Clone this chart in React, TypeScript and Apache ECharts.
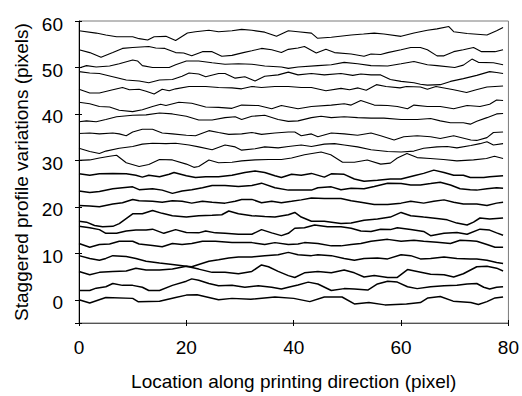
import React, { useEffect, useRef } from "react";
import * as echarts from "echarts";

type Pt = [number, number];

const xTicks = { min: 0, max: 80, interval: 20 };
const yRange = { min: -5, max: 60 };

const xTitle = "Location along printing direction (pixel)";
const yTitle = "Staggered profile variations (pixels)";

const profile01: Pt[] = [[0,0],[2,-0.7],[5,0.5],[10,0.3],[11,-0.4],[15,-0.3],[18,0.5],[20,1.0],[22,1.1],[26,0],[28.5,0.3],[32,0.1],[36.5,0.6],[40,0.3],[43,-0.4],[45.7,0.6],[49,0.6],[51.3,-0.9],[54,-0.6],[57,-1.1],[61,-0.9],[63.6,-0.6],[65,0.4],[67.3,0.7],[69.7,-0.3],[73,-0.6],[74.4,-1.0],[76,-0.4],[77.5,0.4],[79,0.6]];
const profile02: Pt[] = [[0,2.0],[2,2.0],[3.2,2.5],[5,2.8],[6.3,3.5],[8.1,3.1],[10,3.1],[11.8,2.7],[13,2.0],[15,2.0],[17.4,3.1],[20,4.0],[21,4.5],[22.3,4.2],[24.2,3.5],[26,3.0],[28.5,3.1],[30.9,2.7],[33.4,3.0],[35.9,2.7],[37.7,2.3],[39,2.7],[40.8,3.2],[42.7,3.8],[44.5,3.4],[47,2.0],[49.4,2.4],[51.3,2.3],[53.8,2.1],[55.6,3.4],[57.5,4.0],[59.3,3.8],[61.2,2.8],[63,2.4],[65.5,2.8],[68,3.0],[70.4,3.1],[72.3,3.4],[74.1,3.5],[75.4,2.7],[76.5,2.3],[77.8,2.7],[79,2.8]];
const profile03: Pt[] = [[0,6.1],[2,5.4],[3.8,5.9],[6.3,6.1],[8.8,6.2],[10.6,6.8],[12.5,6.4],[15,6.4],[17.4,6.6],[20,7.2],[21,7.1],[22.3,7.6],[24.2,8.3],[26,8.6],[27.9,9.0],[29.7,9.2],[32.2,9.2],[34.6,9.5],[37.1,9.7],[39,10.2],[40.8,9.7],[43.3,9.5],[44.5,9.7],[47,9.5],[49.4,8.9],[51.3,8.5],[53.1,8.9],[55.6,9.0],[57.5,8.8],[60,9.7],[61.8,9.5],[63.6,8.8],[65.5,8.9],[68,9.2],[70.4,8.9],[72.9,8.8],[74.1,8.8],[76,8.5],[77.8,8.0],[79,7.8]];
const profile04: Pt[] = [[0,9.5],[2,8.9],[3.8,8.5],[5,8.9],[6.3,9.5],[8.8,9.3],[10.6,8.9],[12.5,8.3],[15,7.9],[17.4,7.6],[20,7.2],[22.3,6.6],[24.8,5.9],[27.2,5.9],[29.7,5.6],[32.2,6.1],[34,7.5],[35.3,7.1],[37.1,6.1],[39,5.2],[40.2,4.8],[42,5.8],[44.5,6.1],[47,5.8],[49.4,6.4],[51.3,5.8],[53.1,4.9],[55,5.2],[57.5,4.8],[59.3,4.8],[61.2,6.5],[63,6.1],[65.5,5.5],[68,5.4],[69.8,4.9],[71.6,5.6],[74.1,7.1],[76,7.2],[77.8,6.8],[79,6.2]];
const profile05: Pt[] = [[0,12.1],[2,11.3],[3.8,11.9],[5.7,12.0],[7.5,12.6],[10,12.6],[11.2,12.0],[13.7,11.7],[15.5,11.4],[17.4,12.1],[19.2,11.9],[21,12.1],[23,12.6],[25.4,12.6],[28.5,12.3],[32.2,12.3],[34.6,11.9],[36.5,12.3],[39,11.9],[40.8,12.0],[42,12.3],[44.5,12.1],[47,11.6],[48.8,11.6],[50.7,11.9],[52.5,12.1],[54.4,12.6],[57.5,13.0],[60,12.6],[62.4,12.8],[64.2,12.6],[66.7,12.4],[69.2,12.1],[71,12.8],[72.9,12.7],[74.1,12.6],[76,11.9],[77.5,11.3],[79,11.3]];
const profile06: Pt[] = [[0,15.8],[2,15.5],[3.8,15.1],[5,14.3],[7,14.3],[8.8,14.8],[10.6,15.0],[12.5,15.0],[13.7,15.2],[15.8,14.3],[18,15.1],[20,14.5],[22.3,14.4],[23.6,14.8],[25.4,14.4],[27.2,14.3],[29.7,14.1],[32.2,14.1],[34,15.1],[35.9,14.4],[37.7,13.8],[39,14.3],[40.2,15.4],[42,15.5],[43.9,16.1],[46.3,15.7],[48.8,15.7],[50.7,15.4],[52.5,14.8],[54.4,14.7],[56.2,15.2],[58,15.1],[59.3,15.5],[61.8,15.1],[64.2,14.7],[65.5,13.8],[68,14.3],[70.4,14.5],[72.3,14.1],[74.7,15.2],[76.5,15.0],[77.8,14.4],[79,13.9]];
const profile07: Pt[] = [[0,16.9],[1.4,16.7],[2.9,16.0],[4.4,15.7],[6.3,15.8],[7.5,16.4],[10,18.5],[11.8,18.5],[13.7,19.2],[15.5,18.6],[17.4,18.1],[20,17.8],[22.3,18.1],[24.8,18.2],[26.6,18.3],[27.9,19.1],[29.7,18.5],[32.2,18.1],[34.6,17.9],[36.5,17.8],[39,18.3],[40.2,18.8],[41.4,17.8],[43.3,16.9],[45.7,16.9],[48.8,16.4],[50.7,16.5],[53.1,17.1],[55.6,17.4],[58,17.8],[60,18.8],[61.8,18.1],[64.2,17.8],[66.7,17.5],[68.6,17.2],[70.4,16.5],[72.3,16.1],[73.5,16.7],[74.7,17.6],[76.5,17.4],[79,17.6]];
const profile08: Pt[] = [[0,20.3],[2,20.2],[3.8,20.0],[6.3,20.6],[8.1,20.9],[10,21.6],[11.2,21.3],[13.7,21.2],[15.5,21.0],[17.4,21.3],[19.2,21.2],[21,20.8],[23,21.2],[24.8,21.0],[27.2,20.8],[29.1,21.2],[30.3,21.6],[32.2,21.6],[34,20.9],[35.9,21.2],[37.7,20.9],[39.6,21.2],[41.4,21.5],[43.3,21.9],[45.7,21.8],[48.8,21.8],[50.7,21.3],[52.5,21.0],[55,20.5],[57.5,20.5],[60,20.8],[61.8,21.2],[64.2,20.8],[66.1,21.2],[68,21.5],[69.8,21.0],[71.6,20.6],[74.1,20.6],[76,20.3],[77.8,20.8],[79,21.0]];
const profile09: Pt[] = [[0,23.4],[2,23.1],[3.8,23.3],[6.3,23.9],[8.1,24.1],[10,24.3],[11.2,23.7],[13.7,23.9],[15.5,23.6],[17.4,22.9],[19.2,23.4],[21,23.7],[23,24.1],[24.8,24.6],[27.2,24.6],[29.7,24.4],[32.2,24.6],[34,25.1],[36.5,24.1],[39,23.6],[41.4,23.6],[43.3,23.6],[44.5,24.1],[47,24.3],[48.8,23.7],[50.7,24.0],[53.1,23.9],[55,24.4],[57.5,25.1],[60,25.0],[61.8,24.7],[63.6,24.7],[65.5,25.0],[67.3,25.3],[69.2,24.7],[71,23.9],[72.9,23.7],[74.1,23.6],[76,23.9],[77.8,24.1],[79,24.0]];
const profile10: Pt[] = [[0,27.1],[2,26.8],[3.8,27.1],[6.3,27.2],[8.8,27.1],[10.6,26.8],[11.8,26.4],[13,26.8],[15,26.5],[16.8,27.0],[17.7,27.4],[20,26.7],[21.7,26.3],[23.6,26.5],[26,26.5],[28.5,26.8],[30.9,27.4],[32.8,27.7],[34.6,27.4],[36.5,26.7],[37.7,26.3],[39.6,27.0],[41.4,26.8],[43.3,27.2],[45.7,26.4],[47,27.1],[49.4,27.0],[51.3,26.0],[53.1,25.5],[55.6,25.7],[58,26.0],[60,26.0],[62.4,26.7],[64.2,27.2],[66.1,27.9],[68,27.4],[69.8,26.8],[71.6,26.8],[72.9,26.3],[75.4,26.3],[76.5,26.5],[79,26.7]];
const profile11: Pt[] = [[0,30.0],[2,30.1],[3.8,30.5],[5.7,30.9],[7,31.1],[8.8,29.5],[11.2,28.7],[13,29.1],[15,30.2],[17.4,30.1],[20,29.2],[21.4,28.5],[22.3,28.7],[24.2,30.1],[26,29.5],[28.5,29.6],[30.3,29.9],[32.8,30.1],[35.3,30.2],[37.7,30.2],[39.6,30.5],[42,31.2],[45.1,31.8],[46.9,31.2],[49.1,29.6],[51.3,29.6],[53.7,30.1],[56.2,29.2],[58,29.4],[59.3,30.5],[61.1,31.5],[63,30.6],[65.4,30.4],[67.9,30.2],[70.4,29.9],[73.5,30.1],[75.9,30.4],[77.4,30.9],[79,30.4]];
const profile12: Pt[] = [[0,32.6],[2,31.9],[3.8,31.5],[5,32.0],[7.5,32.6],[10,33.0],[11.8,33.5],[13.7,33.7],[16.2,33.6],[18,33.7],[20.5,33.3],[22.3,32.9],[24.8,32.3],[27.2,33.3],[29.1,32.9],[30.3,32.2],[32.8,32.5],[34.6,32.9],[37.1,32.7],[39,33.0],[41.4,33.3],[43.3,33.0],[45.7,33.5],[47.6,33.6],[49.4,33.3],[51.9,32.9],[54.4,32.3],[57.5,31.9],[60,31.8],[62.4,32.0],[64.2,32.6],[66.7,32.9],[68.6,33.0],[70.4,32.7],[73,33.2],[74.7,33.6],[76,34.0],[77.2,33.3],[79,33.6]];
const profile13: Pt[] = [[0,35.8],[2,35.9],[3.8,35.7],[6.3,35.9],[7.5,35.7],[8.8,35.3],[10,36.1],[11.8,36.7],[13.7,36.7],[15.5,35.9],[17.4,35.7],[20,35.4],[21.7,35.3],[24.2,36.4],[26,36.0],[27.9,35.6],[30.3,35.7],[32.2,36.0],[34,35.6],[36.5,35.9],[39,36.1],[40.2,36.1],[41.4,35.3],[43.3,35.7],[44.5,35.1],[47,35.9],[49.4,35.7],[51.9,35.4],[54.4,35.9],[56.2,35.3],[58.7,34.4],[60.5,35.1],[63,35.3],[65.5,35.1],[67.3,34.7],[69.8,35.3],[73,34.4],[74.1,34.3],[76,34.9],[77.2,36.0],[79,36.1]];
const profile14: Pt[] = [[0,38.3],[1.4,38.5],[3.2,38.3],[5,38.8],[7,39.4],[10,39.7],[12.5,39.8],[15,40.2],[17.4,40.0],[20,39.5],[22.3,38.7],[24.8,38.7],[27.2,39.2],[29.1,39.4],[30.3,38.8],[32.2,39.5],[34.6,39.7],[37.1,38.8],[39,38.4],[40.8,38.5],[43.3,39.2],[45.1,39.5],[47,39.2],[49.4,39.4],[51.9,39.2],[54.4,39.1],[56.8,39.1],[60,38.8],[63,38.8],[65.5,39.0],[67.3,38.5],[69.2,38.1],[71.6,38.1],[72.9,37.8],[74.1,38.4],[76,39.2],[77.8,40.0],[79,40.1]];
const profile15: Pt[] = [[0,42.5],[2,42.2],[3.8,41.6],[5.7,41.5],[7.5,40.8],[10,40.5],[11.8,40.9],[13.7,41.6],[15.2,42.1],[16.2,41.8],[18.6,42.5],[21,42.3],[23.6,41.5],[26,41.4],[28.5,41.2],[30.3,41.9],[33.4,41.8],[35.9,41.1],[37.7,41.8],[39.6,41.4],[40.8,41.1],[43.3,41.6],[47,41.9],[49.4,42.2],[50.7,41.9],[52.5,42.9],[55,41.9],[57.5,41.8],[59.3,41.6],[61.2,41.1],[62.4,41.9],[64.9,41.6],[67.3,41.6],[69.8,41.1],[72.3,41.8],[74.7,41.6],[76.5,42.1],[77.8,43.0],[79,42.9]];
const profile16: Pt[] = [[0,45.3],[2,44.5],[3.8,44.5],[6.3,45.2],[8.1,45.7],[9.4,45.2],[11.2,45.3],[12.5,44.9],[14,44.3],[15.5,45.3],[16.8,45.0],[18,45.4],[20.5,45.9],[23.6,45.9],[26,45.7],[28.5,45.6],[30.3,45.4],[32.2,45.9],[34,45.7],[36.5,45.9],[39,45.9],[41.4,45.7],[43.3,45.7],[46,45.0],[48.8,45.5],[50.4,45.2],[52,45.6],[53.5,45.1],[55.4,46.3],[57.2,45.9],[59.8,45.6],[61,45.9],[63.6,45.8],[64.9,45.3],[66.5,45.9],[69.8,45.2],[72.2,44.6],[74,45.2],[76,45.8],[79,46.0]];
const profile17: Pt[] = [[0,49.1],[2,48.8],[3.8,48.7],[6.3,48.0],[8.8,47.3],[11.2,47.1],[13,46.7],[15,47.3],[17.4,47.4],[19.2,48.1],[20.5,48.8],[22.3,48.6],[23.6,48.0],[26,48.7],[27.2,48.7],[29.1,47.7],[30.9,48.0],[32.8,47.1],[34.6,48.1],[37.1,48.4],[39,49.0],[40.8,48.4],[43.3,48.7],[45.7,48.4],[48.8,48.7],[51,48.3],[52.5,48.6],[54.4,48.4],[56.2,48.4],[58,47.4],[60,47.0],[62.4,46.7],[63.6,46.4],[64.9,46.2],[67.3,46.3],[69.2,47.0],[71.6,47.6],[74.1,48.3],[76.5,49.1],[77.8,48.9],[79,48.7]];
const profile18: Pt[] = [[0,49.9],[1.4,50.4],[3.2,50.1],[5.7,50.3],[7.5,50.8],[10,51.6],[10.9,51.4],[11.8,50.4],[13.7,50.0],[16.8,50.0],[18,50.6],[20,51.4],[22.3,51.4],[24.8,51.0],[27.2,50.7],[29.7,50.8],[32.2,50.7],[34.6,50.3],[37.7,50.1],[39,49.8],[40.8,50.1],[44.5,50.4],[47,50.6],[49.4,51.1],[51.9,50.8],[54.4,50.4],[57.5,50.3],[60,50.8],[62.4,51.3],[64.9,50.6],[66.7,50.4],[70,50.0],[71.6,50.5],[73.2,51.8],[74.4,51.1],[77.2,51.0],[79,50.6]];
const profile19: Pt[] = [[0,53.8],[2,53.2],[4.1,52.2],[6.3,53.2],[8.1,54.1],[10,54.3],[13,54.5],[14.3,54.2],[16,54.1],[18,53.2],[19.5,53.1],[21,52.5],[23,53.4],[24.8,53.4],[26.6,52.4],[28.5,52.6],[30.6,53.2],[32.2,53.6],[34,54.1],[35.9,53.8],[37.7,53.2],[39,53.9],[40.8,54.2],[42,54.5],[44.2,53.1],[46,53.9],[47.6,53.2],[50.7,52.9],[53.1,52.4],[54.4,52.9],[56.2,52.8],[57.5,53.2],[60,53.8],[61.8,54.3],[63.6,54.3],[64.9,53.8],[66.7,52.5],[68,52.5],[69.8,53.4],[71.6,53.8],[73.5,54.3],[75,53.4],[77.5,53.4],[79,53.8]];
const profile20: Pt[] = [[0,57.9],[3.2,57.4],[5,57.0],[7,56.6],[10,56.6],[11.2,56.2],[12.8,55.9],[14,56.6],[16.2,56.7],[18,55.8],[20.2,57.4],[21.7,57.7],[24.2,58.0],[26,57.7],[28.5,57.9],[30.3,58.2],[32.2,58.0],[34.6,57.6],[36.8,56.7],[39,57.9],[40.8,57.7],[43.3,57.4],[44.4,56.3],[47,56.5],[50.7,57.0],[53,57.2],[55,57.4],[56.8,57.2],[60,56.7],[62.4,57.4],[64.9,58.0],[66.7,58.3],[68.9,58.8],[69.8,57.7],[72.3,57.3],[76,57.0],[77.8,57.9],[79,58.6]];

const profiles: Pt[][] = [
  profile01, profile02, profile03, profile04, profile05,
  profile06, profile07, profile08, profile09, profile10,
  profile11, profile12, profile13, profile14, profile15,
  profile16, profile17, profile18, profile19, profile20,
];

const FONT = "'Liberation Sans', Arial, Helvetica, sans-serif";

export default function App() {
  const ref = useRef<HTMLDivElement>(null);
  useEffect(() => {
    if (!ref.current) return;
    const chart = echarts.init(ref.current, null, { renderer: "svg" });
    const textStyle = { fontFamily: FONT, fontSize: 19, color: "#000" };
    chart.setOption({
      animation: false,
      backgroundColor: "#fff",
      textStyle: { fontFamily: FONT },
      grid: {
        left: 79,
        right: 10,
        top: 21,
        bottom: 68,
        show: true,
        borderColor: "#7a7a7a",
        borderWidth: 1,
        backgroundColor: "transparent",
        containLabel: false,
      },
      xAxis: [
        {
          type: "value",
          min: xTicks.min,
          max: xTicks.max,
          interval: xTicks.interval,
          position: "bottom",
          name: xTitle,
          nameLocation: "middle",
          nameGap: 49,
          nameTextStyle: textStyle,
          axisLine: { show: true, onZero: false, lineStyle: { color: "#555", width: 1 } },
          axisTick: { show: true, length: 3, lineStyle: { color: "#000" } },
          axisLabel: { ...textStyle, margin: 15 },
          splitLine: { show: false },
        },
        {
          type: "value",
          min: xTicks.min,
          max: xTicks.max,
          interval: xTicks.interval,
          position: "bottom",
          axisLine: { show: false, onZero: false },
          axisTick: { show: true, inside: true, length: 3, lineStyle: { color: "#000" } },
          axisLabel: { show: false },
          splitLine: { show: false },
        },
      ],
      yAxis: [
        {
          type: "value",
          min: yRange.min,
          max: yRange.max,
          position: "left",
          name: yTitle,
          nameLocation: "middle",
          nameGap: 46,
          nameTextStyle: textStyle,
          axisLine: { show: true, onZero: false, lineStyle: { color: "#000", width: 1 } },
          axisTick: { show: true, length: 4, lineStyle: { color: "#000" } },
          axisLabel: {
            ...textStyle,
            margin: 16,
            verticalAlign: "top",
            lineHeight: 6,
            formatter: (v: number) => (v < 0 ? "" : String(v)),
          },
          splitLine: { show: false },
        },
        {
          type: "value",
          min: yRange.min,
          max: yRange.max,
          position: "left",
          axisLine: { show: false, onZero: false },
          axisTick: { show: true, inside: true, length: 3, lineStyle: { color: "#000" } },
          axisLabel: { show: false },
          splitLine: { show: false },
        },
      ],
      series: profiles.map((p, i) => ({
        type: "line",
        name: `profile ${i + 1}`,
        data: p,
        xAxisIndex: 0,
        yAxisIndex: 0,
        showSymbol: false,
        symbol: "none",
        smooth: false,
        lineStyle: { color: "#000", width: i < 10 ? 1.5 : 1.1 },
        emphasis: { disabled: true },
        silent: true,
      })),
    });
    return () => chart.dispose();
  }, []);
  return (
    <div
      ref={ref}
      style={{ position: "fixed", left: 0, top: 0, width: 522, height: 396, background: "#fff" }}
    />
  );
}
